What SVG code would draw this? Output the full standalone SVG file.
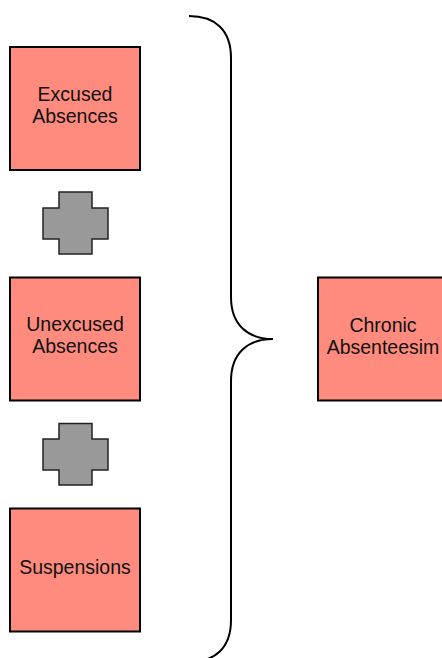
<svg xmlns="http://www.w3.org/2000/svg" width="442" height="658" viewBox="0 0 442 658">
<style>
.box{fill:#FF8B7E;stroke:#000;stroke-width:2}
.plus{fill:#999999;stroke:#222;stroke-width:1.5}
.t{font-family:"Liberation Sans",Arial,sans-serif;font-size:19.5px;fill:#111;text-anchor:middle}
.brace{fill:none;stroke:#000;stroke-width:2}
</style>
<rect width="442" height="658" fill="#fff"/>
<g id="excused">
<rect class="box" x="10" y="47" width="130" height="123"/>
<text class="t" x="75" y="100.7">Excused</text>
<text class="t" x="75" y="122.7">Absences</text>
</g>
<g id="plus1">
<path class="plus" d="M59,192 H92 V208 H108 V239 H92 V254 H59 V239 H43 V208 H59 Z"/>
</g>
<g id="unexcused">
<rect class="box" x="10" y="277.5" width="130" height="123"/>
<text class="t" x="75" y="331.2">Unexcused</text>
<text class="t" x="75" y="353.2">Absences</text>
</g>
<g id="plus2">
<path class="plus" d="M59,423.5 H92 V439 H108 V470 H92 V485 H59 V470 H43 V439 H59 Z"/>
</g>
<g id="suspensions">
<rect class="box" x="10" y="508.5" width="130" height="123"/>
<text class="t" x="75" y="573.5">Suspensions</text>
</g>
<g id="chronic">
<rect class="box" x="318" y="277.5" width="130" height="123"/>
<text class="t" x="383" y="331.5">Chronic</text>
<text class="t" x="383" y="353.5">Absenteesim</text>
</g>
<g id="connectors">
<path class="brace" d="M189,16 C215,16 231,30 231,58 L231,297 C231,325 248,339 273,339 C248,339 231,353 231,381 L231,620 C231,648 215,662 189,662"/>
</g>
</svg>
